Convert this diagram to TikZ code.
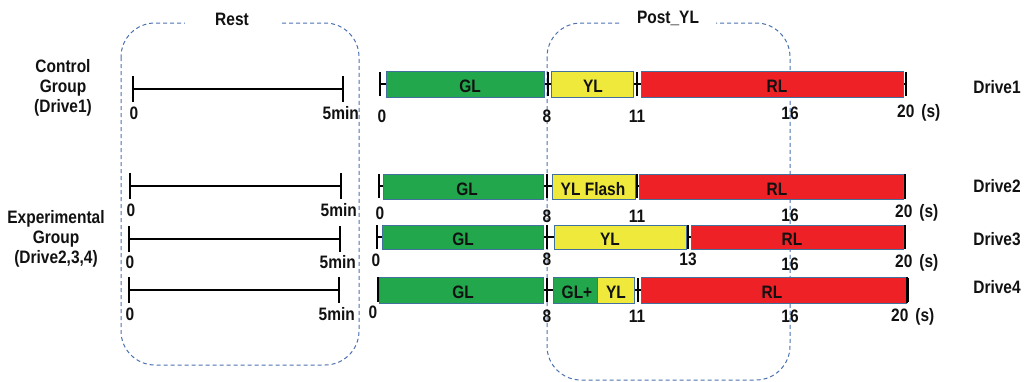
\documentclass[tikz,border=0pt]{standalone}
\usepackage{fontspec}
\newfontfamily\lab{Liberation Sans}[FakeStretch=0.86]
\definecolor{glc}{HTML}{22A74D}
\definecolor{ylc}{HTML}{EEE93A}
\definecolor{rlc}{HTML}{EE2127}
\definecolor{edgec}{HTML}{41719C}
\definecolor{dashc}{HTML}{4C72B0}
\definecolor{inkc}{HTML}{111111}
\tikzset{
  txt/.style={font=\lab\bfseries\fontsize{18}{20}\selectfont, text=inkc, inner sep=0pt},
  grp/.style={draw=dashc, line width=1pt, dash pattern=on 4pt off 3pt},
  axis/.style={draw=black, line width=1.6pt},
  tickmark/.style={draw=black, line width=2pt},
  bar/.style={draw=edgec, line width=0.9pt},
  gl/.style={bar, fill=glc},
  yl/.style={bar, fill=ylc},
  rl/.style={bar, fill=rlc},
}
\begin{document}
\begin{tikzpicture}[x=1pt,y=-1pt]
\useasboundingbox (0,0) rectangle (1026,381);

% dashed group frames
\draw[grp, rounded corners=34pt] (121,23) rectangle (359,365);
\draw[grp, rounded corners=34pt] (547,23) rectangle (790,380);
\node[txt, fill=white, minimum width=95pt, minimum height=12pt] (rest) at (232,19) {Rest};
\node[txt, fill=white, minimum width=95pt, minimum height=12pt] (post) at (668,18) {Post\_YL};

% group labels
\node[txt, align=center] (ctrl) at (63,88) {Control\\[0pt]Group\\[0pt](Drive1)};
\node[txt, align=center] (expt) at (56,239) {Experimental\\[0pt]Group\\[0pt](Drive2,3,4)};

% rest timelines
\foreach \i/\y/\a/\b/\ly in {1/89/133/343/113, 2/186/130/341/210, 3/239/129/340/262, 4/290/129/339/314}{
  \coordinate (r\i a) at (\a,\y);
  \coordinate (r\i b) at (\b,\y);
  \coordinate (r\i at) at (\a,\y-13);
  \coordinate (r\i ab) at (\a,\y+13);
  \coordinate (r\i bt) at (\b,\y-13);
  \coordinate (r\i bb) at (\b,\y+13);
  \draw[axis] (r\i a) -- (r\i b);
  \draw[tickmark] (r\i at) -- (r\i ab);
  \draw[tickmark] (r\i bt) -- (r\i bb);
  \node[txt] (r\i zero) at (\a+1,\ly) {0};
  \node[txt, anchor=east] (r\i end) at (\b+16,\ly) {5min};
}

% drive timelines: axis line and tick marks
\foreach \i/\y/\p/\q/\r/\s in {1/84/380/548/637/906, 2/186/379/547/637/905, 3/237/377/547/688/905, 4/290/378/547/638/908}{
  \coordinate (d\i p) at (\p,\y);
  \coordinate (d\i s) at (\s,\y);
  \draw[axis, line width=1.3pt] (d\i p) -- (d\i s);
  \foreach \t in {\p,\q,\r,\s}{
    \draw[tickmark, line width=1.6pt] (\t,\y-12) -- (\t,\y+12);
  }
}

% Drive1
\node[gl, minimum width=158pt, minimum height=26pt, inner sep=0pt] (d1gl) at (465,84) {};
\node[yl, minimum width=82pt, minimum height=26pt, inner sep=0pt] (d1yl) at (592,84) {};
\node[rl, minimum width=262pt, minimum height=26pt, inner sep=0pt] (d1rl) at (772,84) {};
\draw[tickmark, line width=2.2pt] (906,72) -- (906,96);
\node[txt] at (470,86) {GL};
\node[txt] at (593,86) {YL};
\node[txt] at (777,86) {RL};

% Drive2
\node[gl, minimum width=160pt, minimum height=25pt, inner sep=0pt] (d2gl) at (463,186.5) {};
\node[yl, minimum width=83pt, minimum height=25pt, inner sep=0pt] (d2yl) at (593.5,186.5) {};
\node[rl, minimum width=264pt, minimum height=25pt, inner sep=0pt] (d2rl) at (771,186.5) {};
\draw[tickmark, line width=2.2pt] (905,174) -- (905,199);
\node[txt] at (467,189) {GL};
\node[txt] at (593,189) {YL Flash};
\node[txt] at (777,189) {RL};

% Drive3
\node[gl, minimum width=161pt, minimum height=24pt, inner sep=0pt] (d3gl) at (462.5,237) {};
\node[yl, minimum width=132pt, minimum height=24pt, inner sep=0pt] (d3yl) at (620,237) {};
\node[rl, minimum width=212pt, minimum height=24pt, inner sep=0pt] (d3rl) at (797,237) {};
\draw[tickmark, line width=2.2pt] (905,225) -- (905,249);
\node[txt] at (463,239) {GL};
\node[txt] at (610,239) {YL};
\node[txt] at (792,239) {RL};

% Drive4
\node[gl, minimum width=164pt, minimum height=26pt, inner sep=0pt] (d4gl) at (461,290) {};
\node[gl, minimum width=44pt, minimum height=26pt, inner sep=0pt] (d4gy) at (575,290) {};
\node[yl, minimum width=37pt, minimum height=26pt, inner sep=0pt] (d4yl) at (615.5,290) {};
\node[rl, minimum width=265pt, minimum height=26pt, inner sep=0pt] (d4rl) at (773.5,290) {};
\draw[tickmark, line width=2.4pt] (378,277) -- (378,302);
\draw[tickmark, line width=2.2pt] (907,277) -- (907,303);
\node[txt] at (463,292) {GL};
\node[txt] at (577,292) {GL+};
\node[txt] at (616,292) {YL};
\node[txt] at (772,292) {RL};

% second-scale labels
\foreach \i/\y/\z/\e/\m/\n/\six/\tw/\tx in {1/116/382/116/11/637/113/113/897, 2/213/380/216/11/637/215/213/895, 3/260/376/259/13/688/264/263/895, 4/312/373/316/11/637/316/317/891}{
  \node[txt] (z\i) at (\z,\y) {0};
  \node[txt] (e\i) at (547,\e) {8};
  \node[txt] (m\i) at (\n,\e) {\m};
  \node[txt] (x\i) at (790,\six) {16};
  \node[txt, anchor=west] (t\i) at (\tx,\tw) {20\hspace{7pt}(s)};
}

% drive names
\node[txt] (dr1) at (997,87) {Drive1};
\node[txt] (dr2) at (997,186) {Drive2};
\node[txt] (dr3) at (997,239) {Drive3};
\node[txt] (dr4) at (997,287) {Drive4};
\end{tikzpicture}
\end{document}
